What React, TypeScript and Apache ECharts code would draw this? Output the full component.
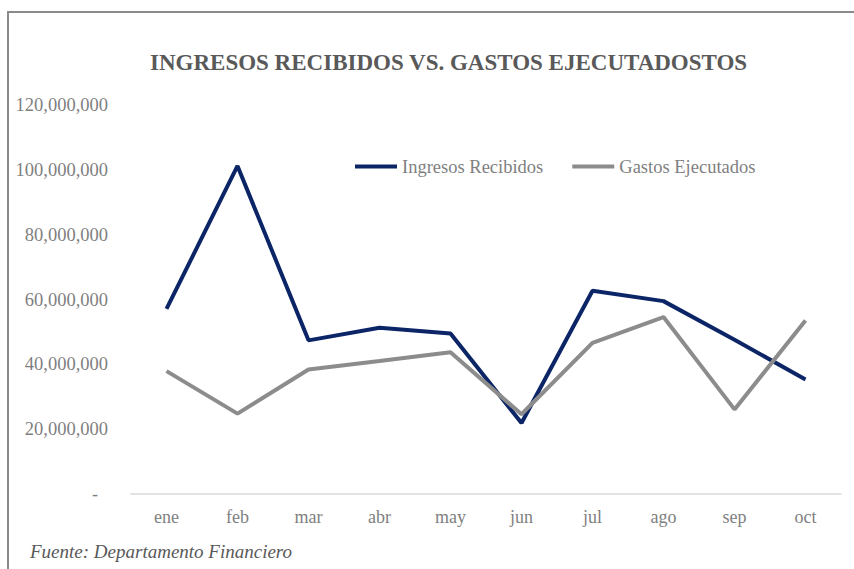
import React, { useEffect, useRef } from "react";
import * as echarts from "echarts";

const categories = ["ene", "feb", "mar", "abr", "may", "jun", "jul", "ago", "sep", "oct"];
const ingresos = [57100000, 101200000, 47400000, 51300000, 49500000, 21900000, 62700000, 59500000, 47600000, 35300000];
const gastos = [37900000, 24800000, 38400000, 41000000, 43700000, 24600000, 46600000, 54600000, 26100000, 53500000];
const seriesNames = ["Ingresos Recibidos", "Gastos Ejecutados"];
const titleText = "INGRESOS RECIBIDOS VS. GASTOS EJECUTADOSTOS";
const sourceText = "Fuente: Departamento Financiero";

const FONT = "Liberation Serif";

export default function App() {
  const ref = useRef<HTMLDivElement>(null);
  useEffect(() => {
    if (!ref.current) return;
    const chart = echarts.init(ref.current, undefined, { renderer: "svg" });
    chart.setOption({
      animation: false,
      backgroundColor: "#ffffff",
      title: {
        text: titleText,
        left: 145,
        top: 46,
        textStyle: { fontFamily: FONT, fontSize: 23, fontWeight: "bold", color: "#595959" },
      },
      legend: {
        left: 350,
        top: 152,
        itemWidth: 42,
        itemHeight: 4,
        itemGap: 29,
        icon: "rect",
        textStyle: { fontFamily: FONT, fontSize: 18.5, color: "#7f7f7f" },
        data: seriesNames,
      },
      grid: { left: 131, right: 13, top: 105, bottom: 75 },
      xAxis: {
        type: "category",
        data: categories,
        boundaryGap: true,
        axisLine: { lineStyle: { color: "#d9d9d9", width: 1.5 } },
        axisTick: { show: false },
        axisLabel: { fontFamily: FONT, fontSize: 18, color: "#7f7f7f", margin: 14 },
      },
      yAxis: {
        type: "value",
        min: 0,
        max: 120000000,
        interval: 20000000,
        splitLine: { show: false },
        axisLine: { show: false },
        axisTick: { show: false },
        axisLabel: {
          fontFamily: FONT,
          fontSize: 18.5,
          color: "#7f7f7f",
          margin: 23,
          formatter: (v: number) =>
            v === 0 ? "{z|-}" : v.toLocaleString("en-US"),
          rich: { z: { fontFamily: FONT, fontSize: 18, color: "#7f7f7f", padding: [0, 10, 0, 0] } },
        },
      },
      series: [
        {
          name: seriesNames[0],
          type: "line",
          data: ingresos,
          symbol: "none",
          color: "#0b2566",
          lineStyle: { width: 4, color: "#0b2566" },
        },
        {
          name: seriesNames[1],
          type: "line",
          data: gastos,
          symbol: "none",
          color: "#8c8c8c",
          lineStyle: { width: 4, color: "#8c8c8c" },
        },
      ],
      graphic: [
        {
          type: "rect",
          shape: { x: 8, y: 12, width: 900, height: 600 },
          style: { fill: "none", stroke: "#8a8a8a", lineWidth: 2 },
          silent: true,
        },
        {
          type: "text",
          left: 30,
          top: 542,
          style: {
            text: sourceText,
            fontFamily: FONT,
            fontStyle: "italic",
            fontSize: 19,
            fill: "#595959",
          },
        },
      ],
    });
    return () => chart.dispose();
  }, []);
  return (
    <div
      ref={ref}
      style={{ position: "fixed", left: 0, top: 0, width: 854, height: 569 }}
    />
  );
}
